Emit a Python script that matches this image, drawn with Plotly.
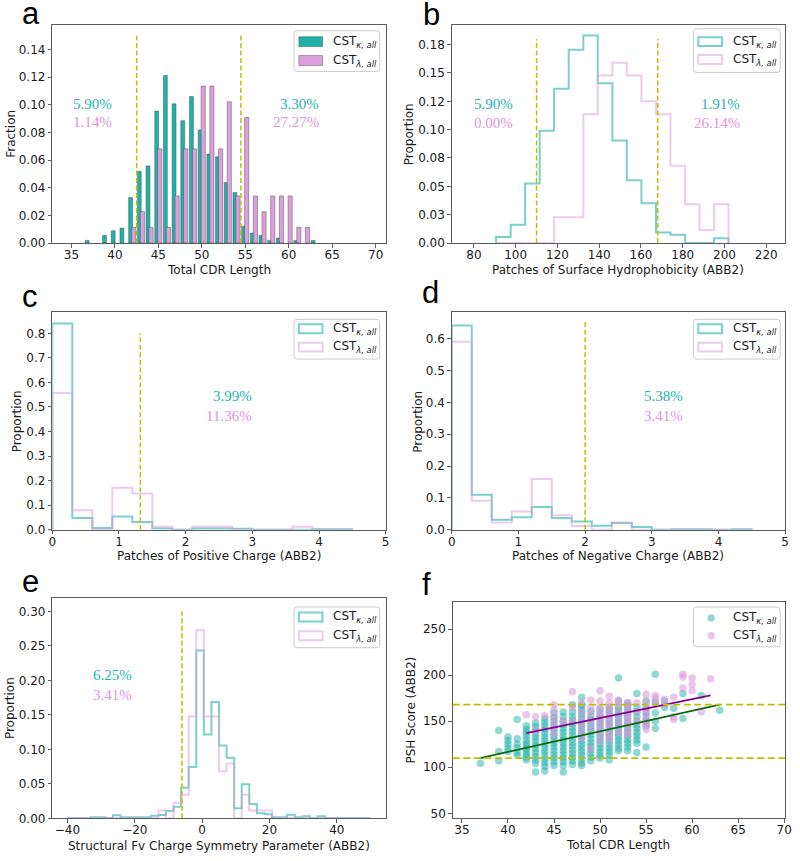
import plotly.graph_objects as go

W, H = 800, 861

# ---------------- data ----------------
# (a) Total CDR length, fraction per length
a_kappa_x = [37, 39, 40, 41, 42, 43, 44, 45, 46, 47, 48, 49, 50, 51, 52, 53, 54, 55, 56, 57, 58, 59, 61, 63]
a_kappa_y = [0.0019, 0.0055, 0.0089, 0.0108, 0.033, 0.052, 0.0558, 0.0955, 0.1213, 0.1008, 0.0886, 0.106,
             0.0819, 0.0644, 0.0625, 0.0438, 0.0366, 0.0122, 0.0072, 0.0055, 0.0019, 0.0036, 0.0019, 0.0019]
a_lambda_x = [42, 43, 44, 45, 46, 47, 48, 49, 50, 51, 52, 53, 54, 55, 56, 57, 58, 59, 60, 61, 62]
a_lambda_y = [0.0114, 0.0227, 0.0114, 0.0682, 0.0114, 0.0341, 0.0682, 0.0682, 0.1136, 0.1136, 0.0682,
              0.1023, 0.0341, 0.0909, 0.0341, 0.0227, 0.0341, 0.0341, 0.0341, 0.0114, 0.0114]
a_thresholds = [42.5, 54.5]

# (b) Patches of surface hydrophobicity
b_edges = [90.6, 97.6, 104.5, 111.5, 118.4, 125.4, 132.4, 139.3, 146.3, 153.2, 160.2, 167.2,
           174.1, 181.1, 188.0, 195.0, 201.9]
b_kappa = [0.0053, 0.016, 0.0525, 0.099, 0.136, 0.1706, 0.183, 0.141, 0.0904, 0.0554, 0.035, 0.0093,
           0.0073, 0.0, 0.0, 0.0041]
b_lambda = [0.0, 0.0, 0.0, 0.0, 0.0227, 0.0227, 0.1136, 0.1477, 0.1591, 0.1477, 0.125, 0.1136,
            0.0682, 0.0341, 0.0114, 0.0341]
b_thresholds = [110, 168]

# (c) Patches of positive charge
c_edges = [0, 0.3, 0.6, 0.9, 1.2, 1.5, 1.8, 2.1, 2.4, 2.7, 3.0, 3.3, 3.6, 3.9, 4.2, 4.5]
c_kappa = [0.84, 0.048, 0.007, 0.054, 0.031, 0.005, 0.0, 0.005, 0.005, 0.004, 0.0, 0.0, 0.0, 0.0015, 0.0015]
c_lambda = [0.557, 0.0795, 0.0, 0.1705, 0.1477, 0.0114, 0.0, 0.0114, 0.0114, 0.0, 0.0, 0.0, 0.0114, 0.0, 0.0]
c_threshold = 1.32

# (d) Patches of negative charge
d_edges = [0, 0.3, 0.6, 0.9, 1.2, 1.5, 1.8, 2.1, 2.4, 2.7, 3.0, 3.3, 3.6, 3.9, 4.2, 4.5]
d_kappa = [0.642, 0.110, 0.031, 0.039, 0.071, 0.037, 0.026, 0.0125, 0.021, 0.008, 0.0, 0.0015, 0.0015, 0.0, 0.0015]
d_lambda = [0.591, 0.0909, 0.0227, 0.0568, 0.1591, 0.0455, 0.0114, 0.0, 0.0227, 0.0, 0.0, 0.0, 0.0, 0.0, 0.0]
d_threshold = 2.0

# (e) Structural Fv charge symmetry parameter
e_edges = [-40, -37.75, -35.5, -33.25, -31, -28.75, -26.5, -24.25, -22, -19.75, -17.5, -15.25, -13,
           -10.75, -8.5, -6.25, -4, -1.75, 0.5, 2.75, 5, 7.25, 9.5, 11.75, 14, 16.25, 18.5, 20.75, 23,
           25.25, 27.5, 29.75, 32, 34.25, 36.5, 38.75, 41, 43.25, 45.5, 47.75, 50]
e_kappa = [0.0, 0.0, 0.0, 0.0014, 0.0014, 0.0, 0.0043, 0.0014, 0.0014, 0.0014, 0.0014, 0.0038, 0.0048,
           0.0106, 0.0168, 0.0442, 0.0744, 0.2434, 0.1214, 0.1685, 0.1056, 0.0878, 0.0144, 0.0494,
           0.0206, 0.0072, 0.0058, 0.0014, 0.0014, 0.005, 0.0014, 0.0029, 0.0, 0.0029, 0.0, 0.0, 0.0,
           0.0, 0.0, 0.0]
e_lambda = [0.0, 0.0, 0.0, 0.0, 0.0, 0.0, 0.0, 0.0, 0.0, 0.0, 0.0, 0.0, 0.0114, 0.0, 0.0227, 0.0341,
            0.1477, 0.2727, 0.1477, 0.1477, 0.0682, 0.0795, 0.0, 0.0341, 0.0114, 0.0114, 0.0114, 0.0,
            0.0, 0.0, 0.0, 0.0, 0.0, 0.0, 0.0, 0.0, 0.0, 0.0, 0.0, 0.0]
e_threshold = -6

# (f) PSH score vs total CDR length (columns of points per CDR length)
f_kappa_x = [37, 39, 40, 41, 42, 43, 44, 45, 46, 47, 48, 49, 50, 51, 52, 53, 54, 55, 56, 57, 58, 59, 61, 63]
f_kappa_y = [
    [104.5],
    [107, 117, 140],
    [117, 121, 125, 129, 133],
    [113, 116, 121, 125, 131, 152],
    [108, 111, 114, 117, 120, 123, 126, 130, 134, 138, 141, 145],
    [95, 104, 108, 112, 116, 120, 124, 128, 132, 136, 140, 144, 148],
    [96, 101, 105, 109, 113, 117, 121, 125, 129, 133, 137, 141, 145, 149, 153],
    [102, 106, 110, 114, 118, 122, 126, 130, 134, 138, 142, 146, 150, 154, 159],
    [95, 102, 106, 110, 114, 118, 122, 126, 130, 134, 138, 142, 146, 150, 155, 160],
    [103, 107, 111, 115, 119, 123, 127, 131, 135, 139, 143, 147, 151, 155, 160, 168],
    [102, 105, 109, 113, 117, 121, 125, 129, 133, 137, 141, 145, 149, 153, 157, 161, 165, 168, 176],
    [107, 111, 115, 119, 123, 127, 131, 135, 139, 143, 147, 151, 155, 161],
    [110, 113, 117, 121, 125, 129, 133, 137, 141, 145, 149, 153, 157, 163],
    [108, 113, 117, 121, 125, 129, 133, 137, 141, 145, 149, 153, 157, 161, 165],
    [118, 121, 125, 129, 133, 137, 141, 145, 149, 153, 157, 161, 165, 172, 197],
    [118, 122, 126, 130, 134, 138, 142, 146, 150, 154, 158, 162, 166, 170],
    [116, 126, 130, 134, 138, 142, 146, 150, 155, 160, 165, 180],
    [122, 145, 150, 155, 160, 165, 172],
    [142, 150, 159, 171, 201],
    [165, 172],
    [164],
    [153, 180],
    [178],
    [162],
]
f_lambda_x = [42, 43, 44, 45, 46, 47, 48, 49, 50, 51, 52, 53, 54, 55, 56, 57, 58, 59, 60, 61, 62]
f_lambda_y = [
    [157],
    [155, 140],
    [156],
    [168, 162, 155, 148, 142, 135],
    [150],
    [182, 165, 150],
    [170, 160, 152, 145, 138, 132],
    [173, 165, 158, 150, 142, 120],
    [183, 172, 165, 160, 155, 150, 145, 140, 135, 128],
    [177, 170, 165, 160, 155, 150, 145, 140, 135, 130],
    [173, 168, 160, 152, 145, 138],
    [170, 167, 163, 158, 154, 150, 145, 140, 135],
    [170, 160, 150],
    [179, 170, 163, 158, 152, 148, 145, 141],
    [178, 175, 169],
    [174, 168],
    [176, 155, 152],
    [201, 198, 186],
    [197, 190, 183],
    [160],
    [196],
]
f_fit_kappa_x = [37, 63]
f_fit_kappa_y = [110, 168]
f_fit_lambda_x = [42, 62]
f_fit_lambda_y = [137, 178]
f_thresholds = [110, 168]

# percentages text
pct_a = [("5.90%", "1.14%"), ("3.30%", "27.27%")]
pct_b = [("5.90%", "0.00%"), ("1.91%", "26.14%")]
pct_c = ("3.99%", "11.36%")
pct_d = ("5.38%", "3.41%")
pct_e = ("6.25%", "3.41%")

# ---------------- styling ----------------
TEAL = "#20B2AA"
PLUM = "#DDA0DD"
TEAL_LINE = "rgba(32,178,170,0.6)"
PLUM_LINE = "rgba(221,160,221,0.55)"
TEAL_TXT = "#26B5AD"
PLUM_TXT = "#E094E0"
THR = "#BFBF00"
AXC = "#5a5a5a"
TXT = "#1a1a1a"
SANS = "DejaVu Sans"

def fx(p):
    return p / W

def fy(p):
    return 1 - p / H

# pixel boxes of each plot area (left, right, top, bottom)
boxes = {
    1: (49, 387, 25, 245),
    2: (454, 792, 25, 245),
    3: (49, 387, 315, 534),
    4: (454, 792, 315, 534),
    5: (49, 387, 603, 825),
    6: (455, 792, 607, 825),
}

fig = go.Figure()

def ax(i):
    return ("x" if i == 1 else f"x{i}"), ("y" if i == 1 else f"y{i}")

# (a) bars
fig.add_trace(go.Bar(x=a_kappa_x, y=a_kappa_y, xaxis="x", yaxis="y", width=0.45, offset=-0.42,
                     marker=dict(color=TEAL, line=dict(color="rgba(70,70,70,0.55)", width=0.8))))
fig.add_trace(go.Bar(x=a_lambda_x, y=a_lambda_y, xaxis="x", yaxis="y", width=0.48, offset=-0.08,
                     marker=dict(color=PLUM, line=dict(color="rgba(70,70,70,0.55)", width=0.8))))

def step_xy(edges, vals):
    xs = [edges[0]] + list(edges[:-1]) + [edges[-1]]
    ys = [0] + list(vals) + [0]
    return xs, ys

for i, edges, kv, lv in [(2, b_edges, b_kappa, b_lambda), (3, c_edges, c_kappa, c_lambda),
                         (4, d_edges, d_kappa, d_lambda), (5, e_edges, e_kappa, e_lambda)]:
    xa, ya = ax(i)
    for vals, col in [(kv, TEAL_LINE), (lv, PLUM_LINE)]:
        xs, ys = step_xy(edges, vals)
        fig.add_trace(go.Scatter(x=xs, y=ys, xaxis=xa, yaxis=ya, mode="lines",
                                 line=dict(color=col, width=2, shape="hv"), cliponaxis=True))

# (f) scatter
kx, ky = [], []
for x, ys in zip(f_kappa_x, f_kappa_y):
    kx += [x] * len(ys)
    ky += ys
lx, ly = [], []
for x, ys in zip(f_lambda_x, f_lambda_y):
    lx += [x] * len(ys)
    ly += ys
fig.add_trace(go.Scatter(x=kx, y=ky, xaxis="x6", yaxis="y6", mode="markers",
                         marker=dict(size=7.5, color="rgba(32,178,170,0.5)", line=dict(width=0))))
fig.add_trace(go.Scatter(x=lx, y=ly, xaxis="x6", yaxis="y6", mode="markers",
                         marker=dict(size=7.5, color="rgba(221,150,221,0.55)", line=dict(width=0))))
fig.add_trace(go.Scatter(x=f_fit_kappa_x, y=f_fit_kappa_y, xaxis="x6", yaxis="y6", mode="lines",
                         line=dict(color="#0B6A0B", width=1.8)))
fig.add_trace(go.Scatter(x=f_fit_lambda_x, y=f_fit_lambda_y, xaxis="x6", yaxis="y6", mode="lines",
                         line=dict(color="#8B008B", width=1.8)))

# ---------------- axes ----------------
ranges = {
    1: ([32.8, 71.15], [0, 0.158]),
    2: ([69.4, 229.0], [0, 0.1925]),
    3: ([0, 5], [0, 0.885]),
    4: ([0, 5], [0, 0.683]),
    5: ([-44.5, 54.5], [0, 0.3192]),
    6: ([34, 70.1], [44.6, 279.4]),
}
xticks = {1: (35, 5), 2: (80, 20), 3: (0, 1), 4: (0, 1), 5: (-40, 20), 6: (35, 5)}
yfmt = {1: (".2f", 0.02), 3: (".1f", 0.1), 4: (".1f", 0.1), 5: (".2f", 0.05), 6: ("d", 50)}

layout = dict(width=W, height=H, margin=dict(l=0, r=0, t=0, b=0), showlegend=False,
              plot_bgcolor="white", paper_bgcolor="white", barmode="overlay",
              font=dict(family=SANS, size=12, color=TXT))
common = dict(showline=True, mirror=True, linecolor=AXC, linewidth=1, ticks="outside", ticklen=3.5,
              tickwidth=0.9, tickcolor=AXC, showgrid=False, zeroline=False,
              tickfont=dict(family=SANS, size=12, color=TXT), fixedrange=True)
for i, (l, r, t, b) in boxes.items():
    xk = "xaxis" if i == 1 else f"xaxis{i}"
    yk = "yaxis" if i == 1 else f"yaxis{i}"
    xa, ya = ax(i)
    xr, yr = ranges[i]
    t0, dt = xticks[i]
    layout[xk] = dict(common, domain=[fx(l), fx(r)], anchor=ya, range=xr, tickmode="linear",
                      tick0=t0, dtick=dt, ticklabelstandoff=-3)
    yd = dict(common, domain=[fy(b), fy(t)], anchor=xa, range=yr)
    if i == 2:
        yd.update(tickmode="array", tickvals=[0, 0.025, 0.05, 0.075, 0.1, 0.125, 0.15, 0.175],
                  ticktext=["0.00", "0.03", "0.05", "0.08", "0.10", "0.12", "0.15", "0.18"])
    else:
        f, d = yfmt[i]
        yd.update(tickmode="linear", tick0=0, dtick=d, tickformat=f)
    layout[yk] = yd

shapes = []
annotations = []

# threshold lines
def vline(i, x, y1):
    xa, ya = ax(i)
    shapes.append(dict(type="line", xref=xa, yref=ya, x0=x, x1=x, y0=0, y1=y1,
                       line=dict(color=THR, width=1.5, dash="5px,2.5px")))

for x in a_thresholds:
    vline(1, x, 0.15)
for x in b_thresholds:
    vline(2, x, 0.18)
vline(3, c_threshold, 0.8)
vline(4, d_threshold, 0.652)
vline(5, e_threshold, 0.3)
for y in f_thresholds:
    shapes.append(dict(type="line", xref="x6 domain", yref="y6", x0=0, x1=1, y0=y, y1=y,
                       line=dict(color=THR, width=1.8, dash="7px,3.5px")))

# axis titles
def txt(x, y, s, size=12, color=TXT, family=SANS, xanchor="center", angle=0):
    annotations.append(dict(x=fx(x), y=fy(y), xref="paper", yref="paper", text=s, showarrow=False,
                            xanchor=xanchor, yanchor="middle", textangle=angle,
                            font=dict(family=family, size=size, color=color)))

txt(218, 272, "Total CDR Length")
txt(7, 135, "Fraction", angle=-90)
txt(623, 272, "Patches of Surface Hydrophobicity (ABB2)")
txt(411, 135, "Proportion", angle=-90)
txt(218, 561, "Patches of Positive Charge (ABB2)")
txt(13, 425, "Proportion", angle=-90)
txt(623, 561, "Patches of Negative Charge (ABB2)")
txt(419, 425, "Proportion", angle=-90)
txt(218, 853, "Structural Fv Charge Symmetry Parameter (ABB2)")
txt(6, 714, "Proportion", angle=-90)
txt(623, 852, "Total CDR Length")
txt(413, 716, "PSH Score (ABB2)", angle=-90)

# panel letters
LET = "Liberation Sans"
for s, x, y in [("a", 16, 14), ("b", 423, 15), ("c", 16, 299), ("d", 422, 295), ("e", 16, 586), ("f", 422, 589)]:
    txt(x, y, s, size=31, color="black", family=LET, xanchor="left")

# percentages
SERIF = "Liberation Serif"
def pct(pair, xr, y1, y2):
    txt(xr, y1, pair[0], size=15, color=TEAL_TXT, family=SERIF, xanchor="right")
    txt(xr, y2, pair[1], size=15, color=PLUM_TXT, family=SERIF, xanchor="right")

pct(pct_a[0], 112, 105, 123)
pct(pct_a[1], 321, 105, 123)
pct(pct_b[0], 518, 105, 124)
pct(pct_b[1], 748, 105, 124)
pct(pct_c, 253, 399, 419)
pct(pct_d, 690, 399, 419)
pct(pct_e, 132, 681, 701)

# legends (drawn manually)
def rrect(l, t, r, b, rad=3):
    P = lambda x, y: f"{fx(x):.5f},{fy(y):.5f}"
    return ("M" + P(l + rad, t) + " L" + P(r - rad, t) + " Q" + P(r, t) + " " + P(r, t + rad) +
            " L" + P(r, b - rad) + " Q" + P(r, b) + " " + P(r - rad, b) +
            " L" + P(l + rad, b) + " Q" + P(l, b) + " " + P(l, b - rad) +
            " L" + P(l, t + rad) + " Q" + P(l, t) + " " + P(l + rad, t) + " Z")

LAB_K = "CST<sub><i>κ, all</i></sub>"
LAB_L = "CST<sub><i>λ, all</i></sub>"

def legend(box, px0, px1, tx, rows, kind):
    l, t, r, b = box
    shapes.append(dict(type="path", xref="paper", yref="paper", path=rrect(l, t, r, b),
                       line=dict(color="#cccccc", width=1), fillcolor="rgba(255,255,255,0.85)"))
    for (yc, lab, col) in rows:
        if kind == "bar":
            shapes.append(dict(type="rect", xref="paper", yref="paper", x0=fx(px0), x1=fx(px1),
                               y0=fy(yc + 5), y1=fy(yc - 5), fillcolor=col,
                               line=dict(color="rgba(70,70,70,0.55)", width=0.8)))
        elif kind == "step":
            lc = TEAL_LINE if col == TEAL else PLUM_LINE
            shapes.append(dict(type="rect", xref="paper", yref="paper", x0=fx(px0), x1=fx(px1),
                               y0=fy(yc + 4.5), y1=fy(yc - 4.5), fillcolor="rgba(0,0,0,0)",
                               line=dict(color=lc, width=2)))
        else:
            fc = "rgba(32,178,170,0.5)" if col == TEAL else "rgba(221,150,221,0.55)"
            cx = (px0 + px1) / 2
            shapes.append(dict(type="circle", xref="paper", yref="paper", x0=fx(cx - 3.7), x1=fx(cx + 3.7),
                               y0=fy(yc + 3.7), y1=fy(yc - 3.7), fillcolor=fc, line=dict(width=0)))
        annotations.append(dict(x=fx(tx), y=fy(yc), xref="paper", yref="paper", text=lab, showarrow=False,
                                xanchor="left", yanchor="middle", font=dict(family=SANS, size=12, color=TXT)))

legend((294, 31, 381, 72), 299, 323, 332, [(42, LAB_K, TEAL), (61, LAB_L, PLUM)], "bar")
legend((699, 29, 787, 73), 704, 728, 737, [(42, LAB_K, TEAL), (60, LAB_L, PLUM)], "step")
legend((294, 322, 381, 362), 299, 323, 332, [(331.5, LAB_K, TEAL), (350, LAB_L, PLUM)], "step")
legend((699, 322, 787, 362), 704, 728, 737, [(331.5, LAB_K, TEAL), (350, LAB_L, PLUM)], "step")
legend((294, 612, 381, 653), 299, 323, 332, [(622, LAB_K, TEAL), (641, LAB_L, PLUM)], "step")
legend((699, 612, 787, 652), 704, 730, 737, [(623, LAB_K, TEAL), (641, LAB_L, PLUM)], "marker")

layout["shapes"] = shapes
layout["annotations"] = annotations
fig.update_layout(**layout)
fig.write_html("out.html", config={"displayModeBar": False},
               post_script="document.body.style.margin='0px';document.body.style.overflow='hidden';")
